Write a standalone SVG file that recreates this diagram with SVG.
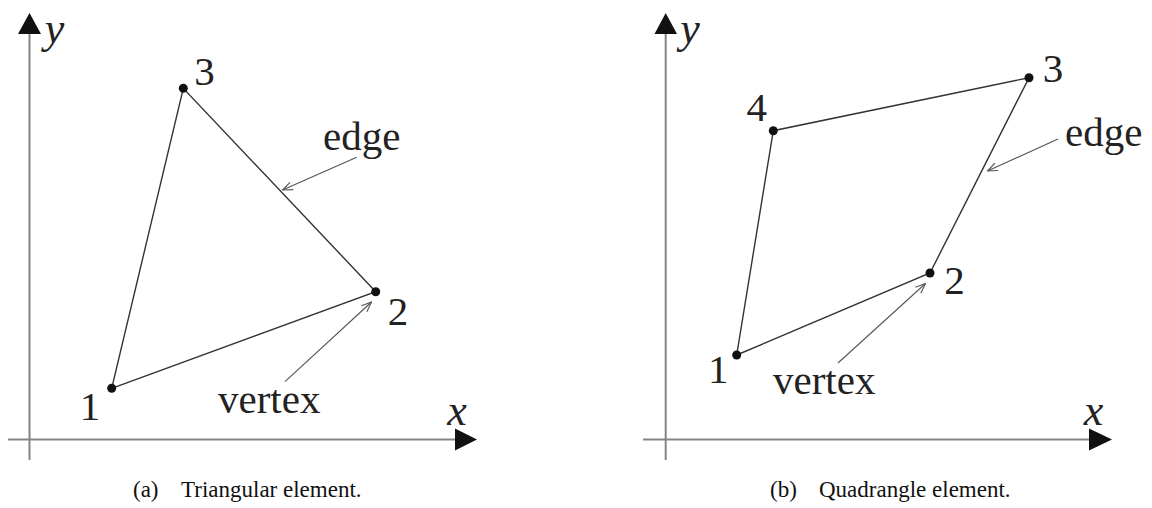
<svg xmlns="http://www.w3.org/2000/svg" width="1152" height="508" viewBox="0 0 1152 508">
<style>
.axis{stroke:#858585;stroke-width:2;fill:none}
.ahead{fill:#111;stroke:none}
.edge{stroke:#333;stroke-width:1.4;fill:none}
.ann{stroke:#555;stroke-width:1.1;fill:none;marker-end:url(#open)}
.dot{fill:#111}
text{font-family:"Liberation Serif","Times New Roman",serif}
.lbl{font-size:41px;fill:#222}
.num{text-anchor:middle}
.ax{font-style:italic;font-size:44px;fill:#222;text-anchor:middle}
.cap{font-size:23px;fill:#111}
</style>
<defs>
<marker id="open" viewBox="0 0 12 10" refX="11" refY="5" markerWidth="12" markerHeight="10" markerUnits="userSpaceOnUse" orient="auto">
<path d="M1,1 L11,5 L1,9" fill="none" stroke="#555" stroke-width="1.1"/>
</marker>
</defs>
<rect width="1152" height="508" fill="#fff"/>
<g id="connectors">
<line class="axis" x1="29.5" y1="30" x2="29.5" y2="460"/>
<line class="axis" x1="8" y1="439.5" x2="458" y2="439.5"/>
<polygon class="ahead" points="29.5,13 18,34 41,34"/>
<polygon class="ahead" points="477,439.5 455,428.5 455,450.5"/>
<polygon class="edge" points="111.7,388.3 375.7,291.7 183.3,88.3"/>
<line class="ann" x1="356.7" y1="157.3" x2="282.5" y2="190"/>
<line class="ann" x1="285" y1="381.7" x2="371.5" y2="302"/>
<line class="axis" x1="665.7" y1="30" x2="665.7" y2="460"/>
<line class="axis" x1="643" y1="439.5" x2="1092" y2="439.5"/>
<polygon class="ahead" points="665.7,13 654.5,34 677,34"/>
<polygon class="ahead" points="1112,439.5 1089,428.5 1089,450.5"/>
<polygon class="edge" points="736.7,355 930,273 1029,77.7 773.3,130.7"/>
<line class="ann" x1="1058" y1="139" x2="987.5" y2="171"/>
<line class="ann" x1="838" y1="363" x2="925.5" y2="283.5"/>
</g>
<g id="axis-labels-a">
<text class="ax" x="54.5" y="43">y</text>
<text class="ax" x="457" y="425">x</text>
</g>
<g id="node-a1"><circle class="dot" cx="111.7" cy="388.3" r="4.5"/><text class="lbl num" x="90" y="420">1</text></g>
<g id="node-a2"><circle class="dot" cx="375.7" cy="291.7" r="4.5"/><text class="lbl num" x="398" y="325">2</text></g>
<g id="node-a3"><circle class="dot" cx="183.3" cy="88.3" r="4.5"/><text class="lbl num" x="204.5" y="85">3</text></g>
<g id="label-a-edge"><text class="lbl" x="323" y="150">edge</text></g>
<g id="label-a-vertex"><text class="lbl" x="218" y="413">vertex</text></g>
<g id="axis-labels-b">
<text class="ax" x="690" y="43">y</text>
<text class="ax" x="1093.5" y="425">x</text>
</g>
<g id="node-b1"><circle class="dot" cx="736.7" cy="355" r="4.5"/><text class="lbl num" x="718.3" y="382.7">1</text></g>
<g id="node-b2"><circle class="dot" cx="930" cy="273" r="4.5"/><text class="lbl num" x="954.5" y="294">2</text></g>
<g id="node-b3"><circle class="dot" cx="1029" cy="77.7" r="4.5"/><text class="lbl num" x="1053" y="82">3</text></g>
<g id="node-b4"><circle class="dot" cx="773.3" cy="130.7" r="4.5"/><text class="lbl num" x="756.7" y="121">4</text></g>
<g id="label-b-edge"><text class="lbl" x="1065" y="146">edge</text></g>
<g id="label-b-vertex"><text class="lbl" x="773" y="394">vertex</text></g>
<g id="caption-a"><text class="cap" y="497"><tspan x="133">(a)</tspan><tspan x="181">Triangular element.</tspan></text></g>
<g id="caption-b"><text class="cap" y="497"><tspan x="770">(b)</tspan><tspan x="819">Quadrangle element.</tspan></text></g>
</svg>
